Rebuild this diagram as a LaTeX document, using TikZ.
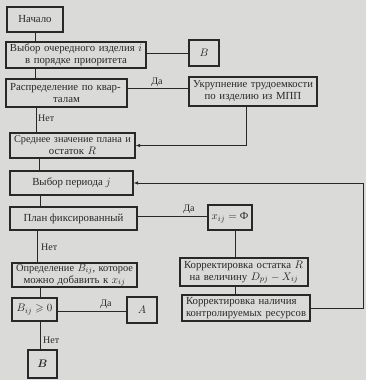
\documentclass[tikz,border=0pt]{standalone}
\usepackage{amsmath}
\usepackage{amssymb}
\usepackage{graphicx}
\usepackage{fontspec}
\setmainfont{Liberation Serif}
\usetikzlibrary{arrows.meta}
\definecolor{paper}{RGB}{218,218,216}
\definecolor{ink}{RGB}{40,40,40}
\tikzset{
  blk/.style={draw=ink, line width=1.1pt, inner sep=0pt, text=ink,
    font=\fontsize{10.8}{12}\selectfont, align=center},
  conn/.style={draw=ink, line width=0.8pt},
  arr/.style={conn, -{Latex[length=4.5pt,width=3.5pt]}},
  lbl/.style={font=\fontsize{10}{11}\selectfont, text=ink, inner sep=1pt},
}
\newcommand{\fitline}[2]{\sbox0{#2}\ifdim\wd0>#1\relax\resizebox{#1}{!}{#2}\else\mbox{#2}\fi}
\newcommand{\spreadline}[3]{\sbox0{#2}\ifdim\wd0>#1\relax\resizebox{#1}{!}{#2}\else\makebox[#1][s]{#2}\fi\\\fitline{#1}{#3}}
\begin{document}
\begin{tikzpicture}[x=1pt,y=-1pt]
\fill[paper] (0,0) rectangle (366,380);
\useasboundingbox (0,0) rectangle (366,380);

% column coordinates
\coordinate (c35) at (35,0);
\coordinate (c36) at (36,0);
\coordinate (c37) at (37,0);
\coordinate (c39) at (39,0);
\coordinate (c40) at (40,0);
\coordinate (c235) at (235,0);
\coordinate (c246) at (246,0);
\coordinate (rc) at (363,0);
\coordinate (yd1) at (0,88);
\coordinate (yd2) at (0,216);
\coordinate (yd3) at (0,311);

% boxes
\node[blk, minimum width=56, minimum height=25] (start) at (35,19.5) {Начало};
\node[blk, minimum width=140, minimum height=26, text width=132pt] (sel) at (76,55)
  {\spreadline{132pt}{Выбор очередного изделия $i$}{в порядке приоритета}};
\node[blk, minimum width=30, minimum height=26] (b1) at (204,53) {$B$};
\node[blk, minimum width=121, minimum height=28, text width=113pt] (dist) at (66.5,93)
  {\spreadline{113pt}{Распределение по квар-}{талам}};
\node[blk, minimum width=128, minimum height=29, text width=120pt] (ukr) at (253,91.5)
  {\spreadline{120pt}{Укрупнение трудоемкости}{по изделию из МПП}};
\node[blk, minimum width=125, minimum height=25, text width=117pt] (mean) at (72.5,145.5)
  {\spreadline{117pt}{Среднее значение плана и}{остаток $R$}};
\node[blk, minimum width=123, minimum height=24] (period) at (71.5,183) {Выбор периода $j$};
\node[blk, minimum width=127, minimum height=23] (plan) at (73.5,218.5) {План фиксированный};
\node[blk, minimum width=44, minimum height=25] (xij) at (230,217.5) {$x_{ij}=\mbox{Ф}$};
\node[blk, minimum width=125, minimum height=24, text width=117pt] (det) at (74.5,275)
  {\spreadline{117pt}{Определение $B_{ij}$, которое}{можно добавить к $x_{ij}$}};
\node[blk, minimum width=128, minimum height=28, text width=120pt] (corr1) at (244,272)
  {\spreadline{120pt}{Корректировка остатка $R$}{на величину $D_{pj}-X_{ij}$}};
\node[blk, minimum width=45, minimum height=23] (bij) at (34.5,309.5) {$B_{ij}\geqslant 0$};
\node[blk, minimum width=30, minimum height=26] (a) at (142,310) {$A$};
\node[blk, minimum width=128, minimum height=26, text width=120pt] (corr2) at (246,308)
  {\spreadline{120pt}{Корректировка наличия}{контролируемых ресурсов}};
\node[blk, minimum width=29, minimum height=28] (b2) at (42.5,364) {$\boldsymbol{B}$};

% labels
\node[lbl] (da1) at (157,82) {Да};
\node[lbl] (da2) at (189,209) {Да};
\node[lbl] (da3) at (106,304) {Да};
\node[lbl, anchor=west] (net1) at (37,118) {Нет};
\node[lbl, anchor=west] (net2) at (40,247) {Нет};
\node[lbl, anchor=west] (net3) at (42,340) {Нет};

% connectors
\draw[conn] (start.south -| c35) -- (sel.north -| c35);
\draw[conn] (sel.east |- b1.west) -- (b1.west);
\draw[conn] (sel.south -| c35) -- (dist.north -| c35);
\draw[conn] (dist.east |- yd1) -- (ukr.west |- yd1);
\draw[conn] (dist.south -| c36) -- (mean.north -| c36);
\draw[arr] (ukr.south -| c246) -- (c246 |- mean.east) -- (mean.east);
\draw[conn] (mean.south -| c39) -- (period.north -| c39);
\draw[conn] (period.south -| c40) -- (plan.north -| c40);
\draw[conn] (plan.east |- yd2) -- (xij.west |- yd2);
\draw[conn] (plan.south -| c37) -- (det.north -| c37);
\draw[conn] (xij.south -| c235) -- (corr1.north -| c235);
\draw[conn] (corr1.south -| c235) -- (corr2.north -| c235);
\draw[conn] (det.south -| c40) -- (bij.north -| c40);
\draw[conn] (bij.east |- yd3) -- (a.west |- yd3);
\draw[conn] (bij.south -| c40) -- (b2.north -| c40);
\draw[arr] (corr2.east) -- (corr2.east -| rc) -- (period.east -| rc) -- (period.east);
\end{tikzpicture}
\end{document}
